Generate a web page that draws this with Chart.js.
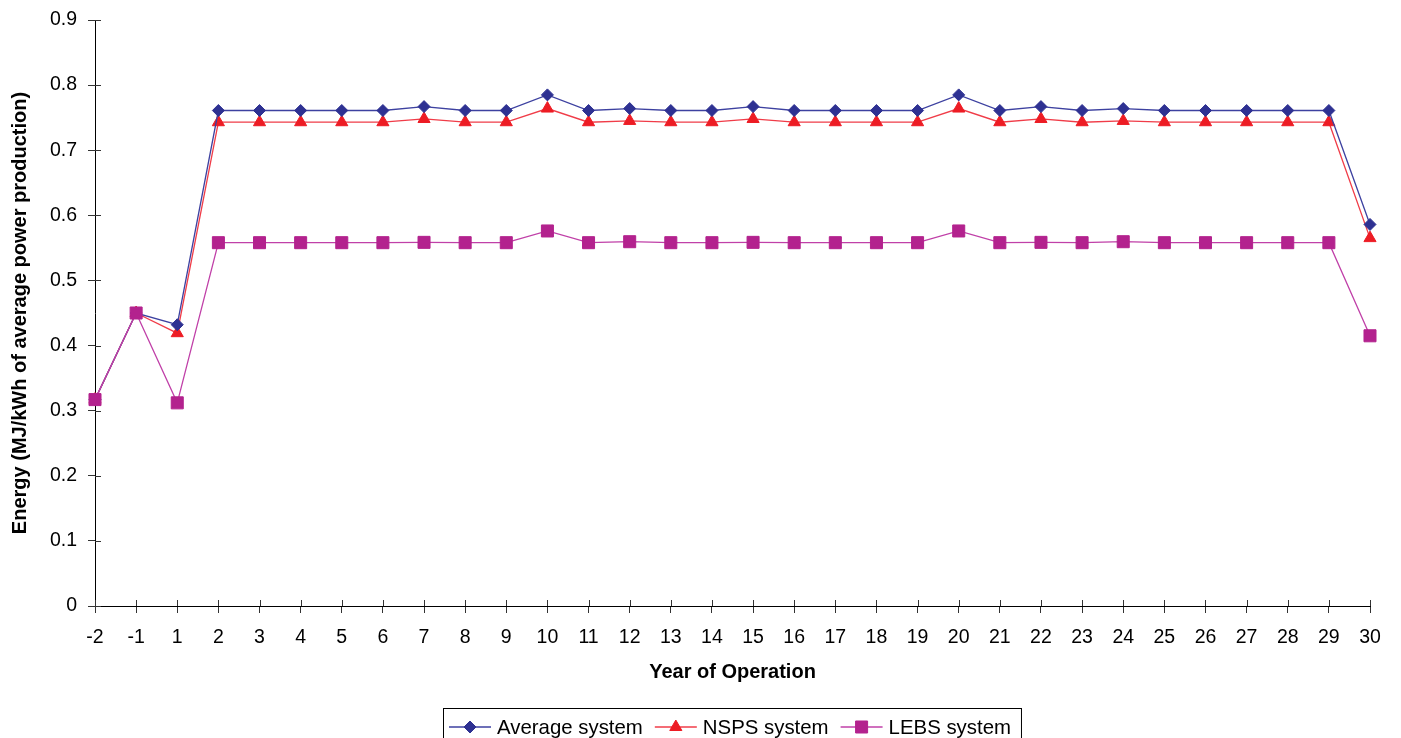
<!DOCTYPE html>
<html>
<head>
<meta charset="utf-8">
<script src="https://cdn.jsdelivr.net/npm/chart.js@4/dist/chart.umd.min.js"></script>
<style>
	html, body { margin: 0; padding: 0; background: #fff; }
	#wrap { width: 1401px; height: 738px; }
</style>
</head>
<body>
<div id="wrap"><canvas id="energyChart" width="1401" height="738"></canvas></div>
<script>
var yearLabels = ['-2', '-1', '1', '2', '3', '4', '5', '6', '7', '8', '9', '10',
	'11', '12', '13', '14', '15', '16', '17', '18', '19', '20',
	'21', '22', '23', '24', '25', '26', '27', '28', '29', '30'];

var averageData = [0.317, 0.450, 0.432, 0.761, 0.761, 0.761, 0.761, 0.761, 0.767, 0.761, 0.761, 0.785,
	0.761, 0.764, 0.761, 0.761, 0.767, 0.761, 0.761, 0.761, 0.761, 0.785,
	0.761, 0.767, 0.761, 0.764, 0.761, 0.761, 0.761, 0.761, 0.761, 0.586];

var nspsData = [0.317, 0.450, 0.419, 0.743, 0.743, 0.743, 0.743, 0.743, 0.748, 0.743, 0.743, 0.764,
	0.743, 0.745, 0.743, 0.743, 0.748, 0.743, 0.743, 0.743, 0.743, 0.764,
	0.743, 0.748, 0.743, 0.745, 0.743, 0.743, 0.743, 0.743, 0.743, 0.565];

var lebsData = [0.317, 0.450, 0.312, 0.558, 0.558, 0.558, 0.558, 0.558, 0.5585, 0.558, 0.558, 0.576,
	0.558, 0.5595, 0.558, 0.558, 0.5585, 0.558, 0.558, 0.558, 0.558, 0.576,
	0.558, 0.5585, 0.558, 0.5595, 0.558, 0.558, 0.558, 0.558, 0.558, 0.415];

var seriesNames = ['Average system', 'NSPS system', 'LEBS system'];

var FONT = '"Liberation Sans", Arial, sans-serif';

// 축 안쪽 눈금 (엑셀처럼 축을 가로지르는 tick)
var innerTickPlugin = {
	id: 'innerTicks',
	afterDatasetsDraw: function(chart) {
		var ctx = chart.ctx;
		var area = chart.chartArea;
		var xs = chart.scales.x;
		var ys = chart.scales.y;
		ctx.save();
		ctx.strokeStyle = '#333';
		ctx.lineWidth = 1;
		ctx.beginPath();
		xs.ticks.forEach(function(t, i) {
			var px = Math.round(xs.getPixelForTick(i)) + 0.5;
			ctx.moveTo(px, area.bottom);
			ctx.lineTo(px, area.bottom - 6);
		});
		ys.ticks.forEach(function(t, i) {
			var py = Math.round(ys.getPixelForTick(i)) + 0.5;
			ctx.moveTo(area.left, py);
			ctx.lineTo(area.left + 6, py);
		});
		ctx.stroke();
		ctx.restore();
	}
};

// 테두리 있는 범례 (선-마커-선)
var boxLegendPlugin = {
	id: 'boxLegend',
	afterDraw: function(chart) {
		var ctx = chart.ctx;
		ctx.save();
		ctx.font = '20.4px ' + FONT;
		ctx.textBaseline = 'middle';
		var x = 449;
		var y = 727;
		var startX = 443;
		chart.data.datasets.forEach(function(ds) {
			ctx.strokeStyle = ds.borderColor;
			ctx.lineWidth = 1.5;
			ctx.beginPath();
			ctx.moveTo(x, y);
			ctx.lineTo(x + 42, y);
			ctx.stroke();
			ctx.fillStyle = ds.pointBackgroundColor;
			ctx.strokeStyle = ds.pointBackgroundColor;
			ctx.lineWidth = 1;
			Chart.helpers.drawPoint(ctx, {
				pointStyle: ds.pointStyle,
				radius: ds.pointRadius,
				rotation: 0,
				borderWidth: 1
			}, x + 21, y);
			ctx.fillStyle = '#000';
			ctx.fillText(ds.label, x + 48, y + 1);
			x = x + 48 + ctx.measureText(ds.label).width + 12;
		});
		ctx.strokeStyle = '#000';
		ctx.lineWidth = 1;
		ctx.strokeRect(startX + 0.5, 708.5, x - startX - 2, 40);
		ctx.restore();
	}
};

function makeDataset(label, data, lineColor, markColor, style, radius, order) {
	return {
		label: label,
		data: data,
		borderColor: lineColor,
		borderWidth: 1.3,
		backgroundColor: markColor,
		pointBackgroundColor: markColor,
		pointBorderColor: markColor,
		pointBorderWidth: 1,
		pointStyle: style,
		pointRadius: radius,
		pointHoverRadius: radius,
		tension: 0,
		fill: false,
		order: order
	};
}

var ctx = document.getElementById('energyChart');

var chartOption = {
	type: 'line',
	data: {
		labels: yearLabels,
		datasets: [
			makeDataset(seriesNames[0], averageData, '#3D41A0', '#2E3192', 'rectRot', 6, 1),
			makeDataset(seriesNames[1], nspsData, '#F03C48', '#ED1C24', 'triangle', 7, 2),
			makeDataset(seriesNames[2], lebsData, '#C040A8', '#B3228E', 'rect', 8.5, 0)
		]
	},
	options: {
		responsive: false,
		animation: false,
		devicePixelRatio: 1,
		layout: {
			padding: { top: 20, right: 31, bottom: 42, left: 0 }
		},
		plugins: {
			legend: { display: false },
			tooltip: { enabled: false }
		},
		scales: {
			x: {
				type: 'category',
				offset: false,
				grid: {
					drawOnChartArea: false,
					tickLength: 7,
					color: '#333'
				},
				border: { color: '#000', width: 1 },
				ticks: {
					autoSkip: false,
					maxRotation: 0,
					padding: 13,
					color: '#000',
					font: { family: FONT, size: 19.5 }
				},
				title: {
					display: true,
					text: 'Year of Operation',
					color: '#000',
					padding: { top: 12, bottom: 12 },
					font: { family: FONT, size: 20, weight: 'bold' }
				},
				afterFit: function(scale) {
					scale.height = 90;
				}
			},
			y: {
				min: 0,
				max: 0.9,
				grid: {
					drawOnChartArea: false,
					tickLength: 7,
					color: '#333'
				},
				border: { color: '#000', width: 1 },
				ticks: {
					stepSize: 0.1,
					padding: 11,
					color: '#000',
					font: { family: FONT, size: 19.5 },
					callback: function(v) {
						return Math.round(v * 10) / 10;
					}
				},
				title: {
					display: true,
					text: 'Energy (MJ/kWh of average power production)',
					color: '#000',
					padding: { top: 8, bottom: 8 },
					font: { family: FONT, size: 20, weight: 'bold' }
				},
				afterFit: function(scale) {
					scale.width = 95;
					scale.paddingTop = 0;
					scale.paddingBottom = 0;
				}
			}
		}
	},
	plugins: [innerTickPlugin, boxLegendPlugin]
};

var energyChart = new Chart(ctx, chartOption);
</script>
</body>
</html>
